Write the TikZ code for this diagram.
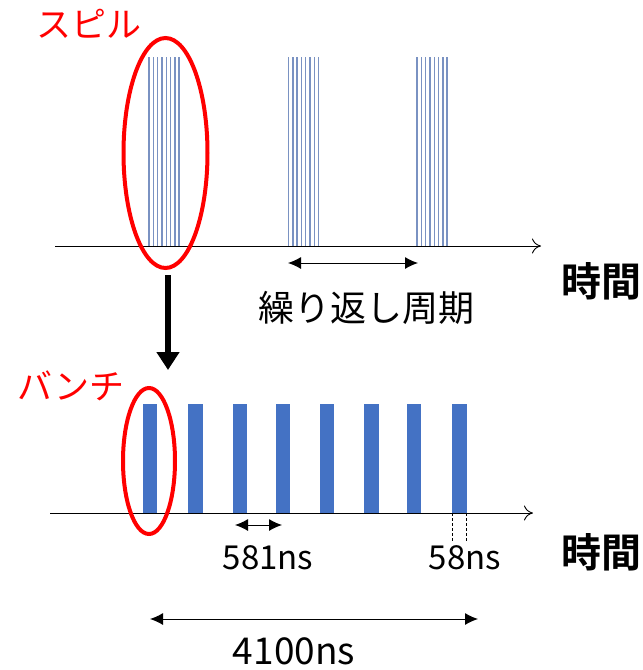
\documentclass[tikz,border=0pt]{standalone}
\usepackage{fontspec}
\setmainfont{Noto Sans CJK JP}
\newfontfamily\jpb{Noto Sans CJK JP Bold}
\usetikzlibrary{arrows.meta}
\definecolor{barblue}{HTML}{4472C4}
\definecolor{lineblue}{HTML}{7A92C2}
\definecolor{redc}{HTML}{FF0000}
\tikzset{
  axis/.style={draw=black, line width=0.9pt, -{To[length=9pt,width=15pt]}},
  dim/.style={draw=black, line width=1pt, {Latex[length=13pt,width=12pt]}-{Latex[length=13pt,width=12pt]}},
  ring/.style={draw=redc, line width=4pt},
  bar/.style={fill=barblue, draw=none},
  pulse/.style={draw=lineblue, line width=1.4pt},
  lab/.style={font=\fontsize{33}{36}\selectfont, inner sep=0pt},
  biglab/.style={font=\fontsize{37}{40}\selectfont, inner sep=0pt},
  jlab/.style={font=\fontsize{36}{40}\selectfont, inner sep=0pt},
  redlab/.style={font=\fontsize{35}{38}\selectfont, text=redc, inner sep=0pt},
  timelab/.style={font=\jpb\fontsize{40}{44}\selectfont, inner sep=0pt},
  tick/.style={draw=black, line width=0.7pt, dash pattern=on 3pt off 2pt}
}
\begin{document}
\begin{tikzpicture}[x=1pt,y=-1pt]
\useasboundingbox (0,0) rectangle (643,670);
% top axis
\coordinate (ta0) at (55,246);
\coordinate (ta1) at (541,246);
\draw[axis] (ta0) -- (ta1);
% pulses
\foreach \s in {149,288.5,417}{
  \foreach \i in {0,...,7}{
    \draw[pulse] (\s+\i*4.3,57) -- (\s+\i*4.3,246);
  }
}
\draw[ring] (165.5,153) ellipse [x radius=42, y radius=115];
\coordinate (p1) at (288,263);
\coordinate (p2) at (418,263);
\draw[dim] (p1) -- (p2);
\node[jlab] (rep) at (366,308) {繰り返し周期};
\node[timelab] (t1) at (601,281) {時間};
\node[redlab] (spill) at (89,24) {スピル};
% big arrow
\coordinate (a0) at (168,275);
\coordinate (a1) at (168,370);
\draw[line width=5.5pt, -{Triangle[length=18pt,width=22pt]}] (a0) -- (a1);
\node[redlab] (bunch) at (71,386) {バンチ};
% bottom axis
\coordinate (ba0) at (50,513);
\coordinate (ba1) at (533,513);
\draw[axis] (ba0) -- (ba1);
\foreach \x in {142.7,188.3,232.7,275.7,320,364.3,406.7,452.3}{
  \fill[bar] (\x,404) rectangle ++(14.2,109);
}
\draw[ring] (149,461) ellipse [x radius=26, y radius=73];
\coordinate (q1) at (235,525);
\coordinate (q2) at (282,525);
\draw[dim] (q1) -- (q2);
\node[lab] (n581) at (268,558) {581ns};
\coordinate (d1) at (452.5,513);
\coordinate (d1b) at (452.5,541);
\coordinate (d2) at (466.5,513);
\coordinate (d2b) at (466.5,541);
\draw[tick] (d1) -- (d1b);
\draw[tick] (d2) -- (d2b);
\node[lab] (n58) at (465,558) {58ns};
\node[timelab] (t2) at (601,552) {時間};
\coordinate (r1) at (150,619);
\coordinate (r2) at (478,619);
\draw[dim] (r1) -- (r2);
\node[biglab] (n4100) at (294,651) {4100ns};
\end{tikzpicture}
\end{document}
